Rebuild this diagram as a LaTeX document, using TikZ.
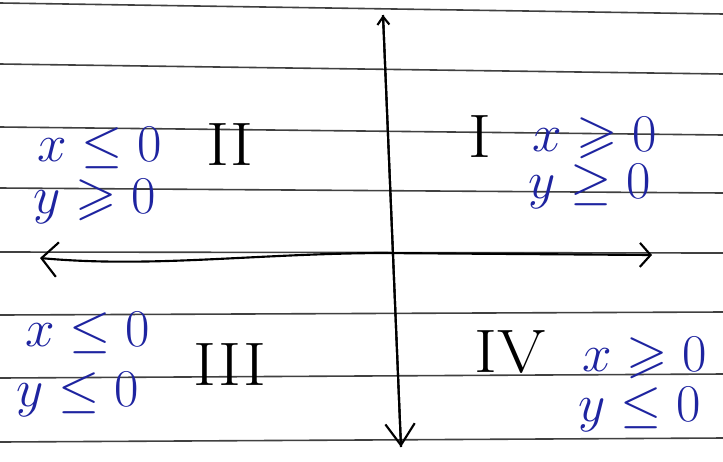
\documentclass[tikz,border=0pt]{standalone}
\usepackage{amsmath,amssymb}
\usepackage{graphicx}
\usepackage{xcolor}
\usetikzlibrary{arrows.meta}

\definecolor{inkblue}{RGB}{30,36,160}
\newcommand{\handmath}[1]{\scalebox{1.6}{\Huge$#1$}}
\newcommand{\handnum}[1]{\scalebox{2.1}[1.85]{\Huge #1}}

\begin{document}
\begin{tikzpicture}[
  x=0.75pt, y=-0.75pt,
  ruled/.style={draw=black!75, line width=1.2pt},
  axis/.style={draw=black, line width=1.6pt},
  cond/.style={text=inkblue, inner sep=0pt},
  quad/.style={text=black, inner sep=0pt}
]
  \useasboundingbox[fill=white] (0,0) rectangle (723,461);

  % notebook rules
  \foreach \ya/\yb in {3/14, 64/74, 127/135, 188/193, 252/253, 315/312, 378/374, 442/438}
    \draw[ruled] (0,\ya) -- (723,\yb);

  % axes
  \coordinate (top) at (383,15);
  \coordinate (bottom) at (401,447);
  \coordinate (left) at (40,258);
  \coordinate (right) at (652,255);
  \draw[axis, -{Straight Barb[length=6pt, width=9pt]}] (bottom) -- (top);
  \draw[axis, -{Straight Barb[length=16pt, width=22pt]}] (top) -- (bottom);
  \draw[axis, {Straight Barb[length=12pt, width=26pt]}-{Straight Barb[length=8pt, width=18pt]}]
    (left) .. controls (150,268) and (250,254) .. (380,253) -- (right);

  % quadrant II
  \node[cond] (x2) at (100,148) {\handmath{x\leq 0}};
  \node[cond] (y2) at (95,202) {\handmath{y\geqslant 0}};
  \node[quad] (q2) at (230,145) {\handnum{II}};

  % quadrant I
  \node[quad] (q1) at (480,137) {\handnum{I}};
  \node[cond] (x1) at (595,138) {\handmath{x\geqslant 0}};
  \node[cond] (y1) at (590,187) {\handmath{y\geq 0}};

  % quadrant III
  \node[cond] (x3) at (88,333) {\handmath{x\leq 0}};
  \node[cond] (y3) at (78,395) {\handmath{y\leq 0}};
  \node[quad] (q3) at (230,365) {\handnum{III}};

  % quadrant IV
  \node[quad] (q4) at (510,352) {\handnum{IV}};
  \node[cond] (x4) at (645,358) {\handmath{x\geqslant 0}};
  \node[cond] (y4) at (640,410) {\handmath{y\leq 0}};
\end{tikzpicture}
\end{document}
